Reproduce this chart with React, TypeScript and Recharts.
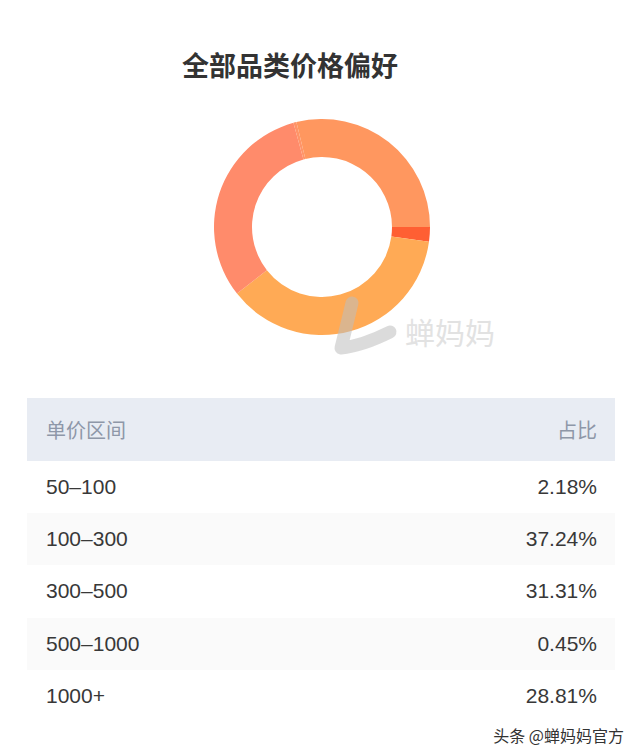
import { PieChart, Pie, Cell } from 'recharts';

const ranges = ['50–100', '100–300', '300–500', '500–1000', '1000+'];
const shares = [2.18, 37.24, 31.31, 0.45, 28.81];
const colors = ['#FF5F33', '#FFAA55', '#FF8B6B', '#FF9468', '#FF975F'];

const cjk = '"Noto Sans CJK SC", "Noto Sans", sans-serif';
const latin = '"Liberation Sans", Arial, sans-serif';

const data = ranges.map((name, i) => ({ name, value: shares[i] }));

export default function App() {
  return (
    <div
      style={{
        position: 'absolute',
        left: 0,
        top: 0,
        width: 640,
        height: 756,
        background: '#fff',
        fontFamily: cjk,
        overflow: 'hidden',
      }}
    >
      <div
        style={{
          position: 'absolute',
          left: 0,
          width: 580,
          top: 46,
          textAlign: 'center',
          fontSize: 27,
          fontWeight: 700,
          color: '#333',
          lineHeight: '38px',
        }}
      >
        全部品类价格偏好
      </div>

      <div style={{ position: 'absolute', left: 0, top: 0 }}>
        <PieChart width={640} height={380} margin={{ top: 0, right: 0, bottom: 0, left: 0 }}>
          <Pie
            data={data}
            dataKey="value"
            nameKey="name"
            cx={322}
            cy={227}
            innerRadius={70}
            outerRadius={108}
            startAngle={0}
            endAngle={-360}
            stroke="none"
            isAnimationActive={false}
          >
            {data.map((d, i) => (
              <Cell key={d.name} fill={colors[i]} />
            ))}
          </Pie>
        </PieChart>
      </div>

      {/* watermark */}
      <svg
        width={640}
        height={380}
        style={{ position: 'absolute', left: 0, top: 0, pointerEvents: 'none' }}
      >
        <path
          d="M352 303 Q346 328 341 348 Q362 346 390 332"
          fill="none"
          stroke="rgba(190,190,190,0.55)"
          strokeWidth={13}
          strokeLinecap="round"
          strokeLinejoin="round"
        />
      </svg>
      <div
        style={{
          position: 'absolute',
          left: 405,
          top: 311,
          fontSize: 30,
          color: '#e2e2e2',
          lineHeight: '40px',
        }}
      >
        蝉妈妈
      </div>

      {/* table */}
      <div
        style={{
          position: 'absolute',
          left: 27,
          top: 398,
          width: 588,
          height: 63,
          background: '#E8ECF3',
          display: 'flex',
          alignItems: 'center',
          justifyContent: 'space-between',
          padding: '0 18px 0 19px',
          boxSizing: 'border-box',
          fontSize: 20,
          color: '#8E97A8',
        }}
      >
        <span>单价区间</span>
        <span>占比</span>
      </div>
      {ranges.map((r, i) => (
        <div
          key={r}
          style={{
            position: 'absolute',
            left: 27,
            top: 461 + i * 52.2,
            width: 588,
            height: 52,
            background: i % 2 === 1 ? '#FAFAFA' : '#fff',
            display: 'flex',
            alignItems: 'center',
            justifyContent: 'space-between',
            padding: '0 18px 0 19px',
            boxSizing: 'border-box',
            fontSize: 21,
            fontFamily: latin,
            color: '#383838',
          }}
        >
          <span>{r}</span>
          <span>{shares[i].toFixed(2)}%</span>
        </div>
      ))}

      <div
        style={{
          position: 'absolute',
          right: 16,
          top: 723,
          fontSize: 16,
          color: '#333',
          lineHeight: '24px',
        }}
      >
        头条 @蝉妈妈官方
      </div>
    </div>
  );
}
